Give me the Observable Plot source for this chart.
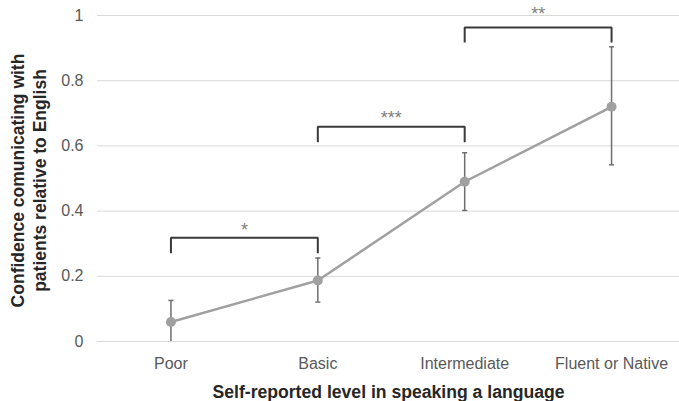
<!DOCTYPE html>
<html>
<head>
<meta charset="utf-8">
<script src="https://cdn.jsdelivr.net/npm/d3@7"></script>
<script src="https://cdn.jsdelivr.net/npm/@observablehq/plot@0.6"></script>
<style>
  html, body { margin: 0; padding: 0; background: #ffffff; }
  #chart svg { display: block; overflow: visible; }
</style>
</head>
<body>
<div id="chart"></div>
<script>
// Self-reported speaking level vs. confidence communicating with patients
const levels = ["Poor", "Basic", "Intermediate", "Fluent or Native"];
const confidence = [0.060, 0.187, 0.490, 0.720];
const errLow = [0.000, 0.121, 0.402, 0.542];
const errHigh = [0.126, 0.256, 0.579, 0.904];
const yTicks = [0, 0.2, 0.4, 0.6, 0.8, 1];

// Pairwise comparisons shown as brackets with significance stars
const bracketFrom = ["Poor", "Basic", "Intermediate"];
const bracketTo = ["Basic", "Intermediate", "Fluent or Native"];
const bracketTop = [0.318, 0.659, 0.963];
const bracketFoot = [0.271, 0.611, 0.917];
const starLabels = ["*", "***", "**"];
const starY = [0.340, 0.685, 1.003];

const xTitle = "Self-reported level in speaking a language";
const yTitle = "Confidence comunicating with\npatients relative to English";

const rows = levels.map((level, i) => ({
  i, level, mean: confidence[i], lo: errLow[i], hi: errHigh[i]
}));

const caps = rows.flatMap(d => [
  {i: d.i, y: d.hi},
  {i: d.i, y: d.lo}
]).filter(d => d.y > 0);

const brackets = bracketFrom.flatMap((from, k) => {
  const a = levels.indexOf(from), b = levels.indexOf(bracketTo[k]);
  return [
    {k, x: a, y: bracketFoot[k]},
    {k, x: a, y: bracketTop[k]},
    {k, x: b, y: bracketTop[k]},
    {k, x: b, y: bracketFoot[k]}
  ];
});

const stars = starLabels.map((s, k) => ({
  s,
  x: (levels.indexOf(bracketFrom[k]) + levels.indexOf(bracketTo[k])) / 2,
  y: starY[k]
}));

// short horizontal cap for the error bars
const capSymbol = {
  draw(ctx) { ctx.moveTo(-2.5, 0); ctx.lineTo(2.5, 0); }
};

const font = "'Liberation Sans', Arial, Helvetica, sans-serif";

const chart = Plot.plot({
  width: 679,
  height: 401,
  marginLeft: 97,
  marginRight: 0,
  marginTop: 15,
  marginBottom: 60,
  style: {fontFamily: font, fontSize: "16px", color: "#595959", background: "#ffffff"},
  x: {type: "linear", domain: [-0.5, 3.5], range: [97, 684.5]},
  y: {domain: [0, 1]},
  marks: [
    Plot.ruleY(yTicks, {stroke: "#d9d9d9", strokeWidth: 1}),
    Plot.axisY({
      ticks: yTicks, tickFormat: d => String(d), tickSize: 0, tickPadding: 14,
      fontSize: 16, label: null
    }),
    Plot.axisX({
      ticks: levels.map((_, i) => i), tickFormat: i => levels[i], tickSize: 0,
      tickPadding: 16, fontSize: 16, label: null
    }),
    // significance brackets
    Plot.line(brackets, {
      x: "x", y: "y", z: "k", stroke: "#3a3a3a", strokeWidth: 2,
      strokeLinejoin: "miter", strokeLinecap: "butt"
    }),
    Plot.text(stars, {
      x: "x", y: "y", text: "s", fontSize: 18, fill: "#7f7f7f",
      textAnchor: "middle", lineAnchor: "middle"
    }),
    // error bars
    Plot.ruleX(rows, {x: "i", y1: "lo", y2: "hi", stroke: "#6e6e6e", strokeWidth: 1.5}),
    Plot.dot(caps, {x: "i", y: "y", symbol: capSymbol, stroke: "#6e6e6e", strokeWidth: 1.5, fill: "none", r: 3}),
    // means
    Plot.line(rows, {x: "i", y: "mean", stroke: "#a0a0a0", strokeWidth: 2.5}),
    Plot.dot(rows, {x: "i", y: "mean", r: 5, fill: "#a0a0a0", stroke: "none"}),
    // axis titles
    Plot.text([xTitle], {
      frameAnchor: "bottom", text: d => d, dy: 50.4,
      textAnchor: "middle", lineAnchor: "middle",
      fontSize: 17.6, fontWeight: "bold", fill: "#262626"
    }),
    Plot.text([yTitle], {
      frameAnchor: "left", text: d => d, rotate: -90, dx: -69.5, dy: 2,
      textAnchor: "middle", lineAnchor: "middle", lineHeight: 1.26,
      fontSize: 17.5, fontWeight: "bold", fill: "#262626"
    })
  ]
});

document.getElementById("chart").append(chart);
</script>
</body>
</html>
